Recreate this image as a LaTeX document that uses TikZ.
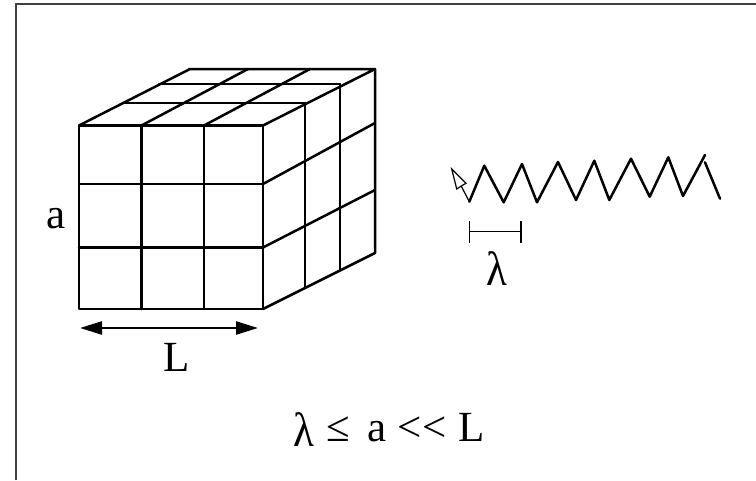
\documentclass[tikz,border=0pt]{standalone}
\usepackage{fontspec}
\setmainfont{Liberation Serif}
\usetikzlibrary{arrows.meta}
\newcommand{\tallam}{\raisebox{-5pt}{\scalebox{1}[1.12]{λ}}}
\tikzset{
  grid line/.style={line width=2.5pt,black,line cap=round,line join=round},
  thin line/.style={line width=1.2pt,black},
  label text/.style={inner sep=0pt,outer sep=0pt,anchor=base,font=\fontsize{43}{46}\selectfont}
}
\begin{document}
\begin{tikzpicture}[x=1pt,y=-1pt]
\useasboundingbox (0,0) rectangle (756,480);
% frame
\draw[line width=1.8pt,black!75] (16,480) -- (16,4) -- (756,4);
% cube: front face
\draw[grid line] (79,125.5) rectangle (263,309);
\draw[grid line] (141.5,125.5) -- (141.5,309);
\draw[grid line] (204,125.5) -- (204,309);
\draw[grid line] (79,184) -- (263,184);
\draw[grid line] (79,247.5) -- (263,247.5);
% cube: top face
\draw[grid line] (79,125.5) -- (190,69) -- (375,69) -- (263,125.5);
\draw[grid line] (141.5,125.5) -- (248,69);
\draw[grid line] (204,125.5) -- (310,69);
\draw[grid line] (125,103) -- (305,103);
\draw[grid line] (159,84) -- (340,84);
% cube: right face
\draw[grid line] (375,69) -- (375,253) -- (263,309);
\draw[grid line] (305,103) -- (305,287);
\draw[grid line] (340,84) -- (340,269);
\draw[grid line] (263,184) -- (375,123);
\draw[grid line] (263,247.5) -- (375,190);
% wave
\draw[grid line] (469.3,201.7) -- (484.3,165.7) -- (503.7,202.3) -- (522,164) -- (537,202.3) -- (558,162) -- (576,200) -- (594.3,160.7) -- (609.3,200) -- (631,158.7) -- (649.7,196.7) -- (668.3,157.3) -- (683,196) -- (705,155);
\draw[grid line] (705,162.3) -- (720,198.7);
% pointer arrow
\draw[thin line,line join=miter] (469.3,201.7) -- (461.2,186) -- (456.7,189) -- (451.7,169) -- (466,183.3) -- (461.2,186);
% wavelength bar
\draw[thin line] (469.3,221) -- (469.3,243);
\draw[thin line] (521,221) -- (521,243);
\draw[thin line] (469.3,231.7) -- (521,231.7);
% dimension arrow
\draw[line width=2.5pt,{Triangle[length=22pt,width=13pt]}-{Triangle[length=22pt,width=13pt]}] (80,328) -- (258,328);
% labels
\node[label text] (alab) at (56,228) {a};
\node[label text] (llab) at (177,371.7) {L};
\node[label text] (lamlab) at (497,280) {\tallam};
\node[label text,anchor=base west] (eq) at (293,441.7) {\tallam\hspace{2pt} ≤\hspace{7pt} a <{}<\hspace{1pt} L};
\end{tikzpicture}
\end{document}
